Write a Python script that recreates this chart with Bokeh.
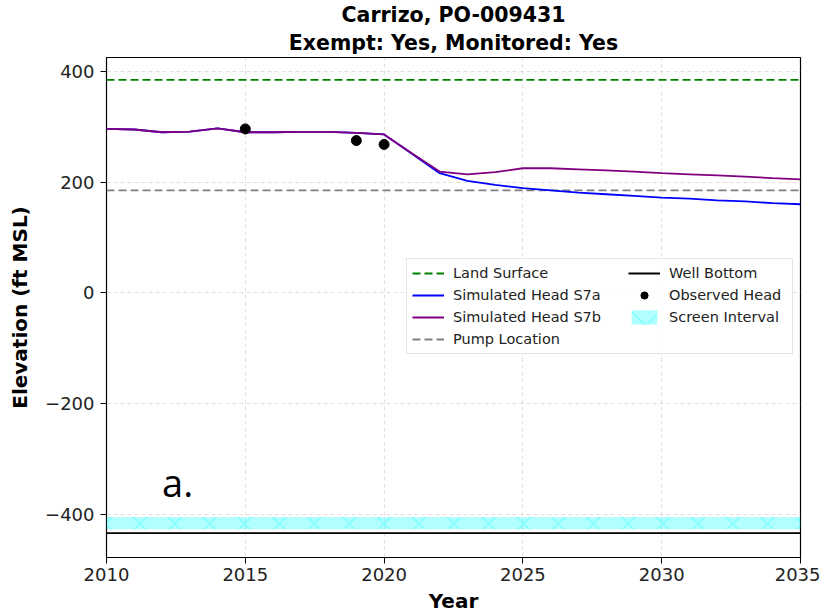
from bokeh.plotting import figure
from bokeh.models import Title, Legend, LegendItem, FixedTicker, Range1d, Label
from bokeh.embed import file_html
from bokeh.resources import INLINE

# ---------------- data ----------------
title_line1 = "Carrizo, PO-009431"
title_line2 = "Exempt: Yes, Monitored: Yes"

years = [2010, 2011, 2012, 2013, 2014, 2015, 2016, 2017, 2018, 2019, 2020, 2021, 2022,
         2023, 2024, 2025, 2026, 2027, 2028, 2029, 2030, 2031, 2032, 2033, 2034, 2035]
head_s7a = [296, 295, 290, 291, 297, 290, 290, 290.5, 290.5, 289, 286, 251, 216,
            202, 195, 189, 185, 181, 178, 175, 172, 170, 167, 165, 162, 160]
head_s7b = [296, 295, 290, 291, 297, 290, 290, 290.5, 290.5, 289, 286, 252, 219,
            214, 218, 225, 225, 223, 221, 219, 216, 214, 212, 210, 207, 205]

obs_years = [2015, 2019, 2020]
obs_head = [296, 275, 268]

land_surface = 384.5
pump_location = 185
well_bottom = -434
screen_top = -405
screen_bottom = -427

x_limits = [2010, 2035]
y_limits = [-478, 425]
x_ticks = [2010, 2015, 2020, 2025, 2030, 2035]
y_ticks = [-400, -200, 0, 200, 400]

panel_label = "a."
panel_label_pos = (2012, -341)

# ---------------- figure ----------------
FONT = "DejaVu Sans"
p = figure(frame_width=694, frame_height=500, output_backend="svg", toolbar_location=None,
           x_range=Range1d(*x_limits), y_range=Range1d(*y_limits),
           min_border_left=106, min_border_right=20, min_border_top=57, min_border_bottom=0)
p.title = None
p.add_layout(Title(text=title_line2, align="center", text_font=FONT, text_font_size="20.5px",
                   text_font_style="bold", text_color="black", standoff=5), "above")
p.add_layout(Title(text=title_line1, align="center", text_font=FONT, text_font_size="20.5px",
                   text_font_style="bold", text_color="black", standoff=0), "above")

p.outline_line_color = "black"
p.outline_line_width = 1.2
p.background_fill_color = "white"
p.border_fill_color = "white"

for ax in (p.xaxis[0], p.yaxis[0]):
    ax.axis_line_color = None
    ax.major_tick_out = 6
    ax.major_tick_in = 0
    ax.minor_tick_out = 0
    ax.minor_tick_in = 0
    ax.major_label_text_font = FONT
    ax.major_label_text_font_size = "18px"
    ax.major_label_text_color = "#222222"
    ax.axis_label_text_font = FONT
    ax.axis_label_text_font_size = "20px"
    ax.axis_label_text_font_style = "bold"
    ax.axis_label_text_color = "black"
    ax.major_tick_line_color = "black"

p.xaxis[0].ticker = FixedTicker(ticks=x_ticks)
p.yaxis[0].ticker = FixedTicker(ticks=y_ticks)
p.xaxis[0].axis_label = "Year"
p.yaxis[0].axis_label = "Elevation (ft MSL)"
p.xaxis[0].major_label_standoff = 4
p.xaxis[0].axis_label_standoff = 5
p.yaxis[0].major_label_standoff = 6
p.yaxis[0].axis_label_standoff = 10

for g in (p.xgrid[0], p.ygrid[0]):
    g.grid_line_color = "#cccccc"
    g.grid_line_alpha = 0.6
    g.grid_line_dash = "4 3"
    g.grid_line_width = 1

# screen interval (hatched band)
screen = p.varea(x=x_limits, y1=[screen_bottom] * 2, y2=[screen_top] * 2,
                 fill_color="cyan", fill_alpha=0.3,
                 hatch_pattern="x", hatch_color="cyan", hatch_alpha=0.3,
                 hatch_scale=34.87, hatch_weight=1.5)

land = p.line(x=x_limits, y=[land_surface] * 2, line_color="green", line_width=1.8,
              line_dash="8 4")
pump = p.line(x=x_limits, y=[pump_location] * 2, line_color="gray", line_width=1.8,
              line_dash="8 4")
wb = p.line(x=x_limits, y=[well_bottom] * 2, line_color="black", line_width=1.8)
s7a = p.line(x=years, y=head_s7a, line_color="blue", line_width=1.8)
s7b = p.line(x=years, y=head_s7b, line_color="purple", line_width=1.8)
obs = p.scatter(x=obs_years, y=obs_head, size=10, fill_color="black", line_color="black")

p.add_layout(Label(x=panel_label_pos[0], y=panel_label_pos[1], text=panel_label,
                   text_font="Open Sans", text_font_size="38px", text_color="black",
                   text_align="left", text_baseline="alphabetic"))

# two-column legend built from a boxed left column and a transparent right column
def style_legend(lg):
    lg.label_text_font = FONT
    lg.label_text_font_size = "14.5px"
    lg.label_text_color = "#222222"
    lg.glyph_width = 32
    lg.glyph_height = 18
    lg.label_height = 18
    lg.label_standoff = 9
    lg.spacing = 4
    lg.padding = 5
    lg.margin = 0

legend_left = Legend(items=[
    LegendItem(label="Land Surface", renderers=[land]),
    LegendItem(label="Simulated Head S7a", renderers=[s7a]),
    LegendItem(label="Simulated Head S7b", renderers=[s7b]),
    LegendItem(label="Pump Location", renderers=[pump]),
], location=(300, 203))
style_legend(legend_left)
legend_left.label_width = 334
legend_left.border_line_color = "#cccccc"
legend_left.border_line_width = 1
legend_left.background_fill_alpha = 0.85

legend_right = Legend(items=[
    LegendItem(label="Well Bottom", renderers=[wb]),
    LegendItem(label="Observed Head", renderers=[obs]),
    LegendItem(label="Screen Interval", renderers=[screen]),
], location=(522, 231))
style_legend(legend_right)
legend_right.border_line_color = None
legend_right.background_fill_alpha = 0

p.add_layout(legend_left, "center")
p.add_layout(legend_right, "center")

open("out.html", "w").write(file_html(p, INLINE))
